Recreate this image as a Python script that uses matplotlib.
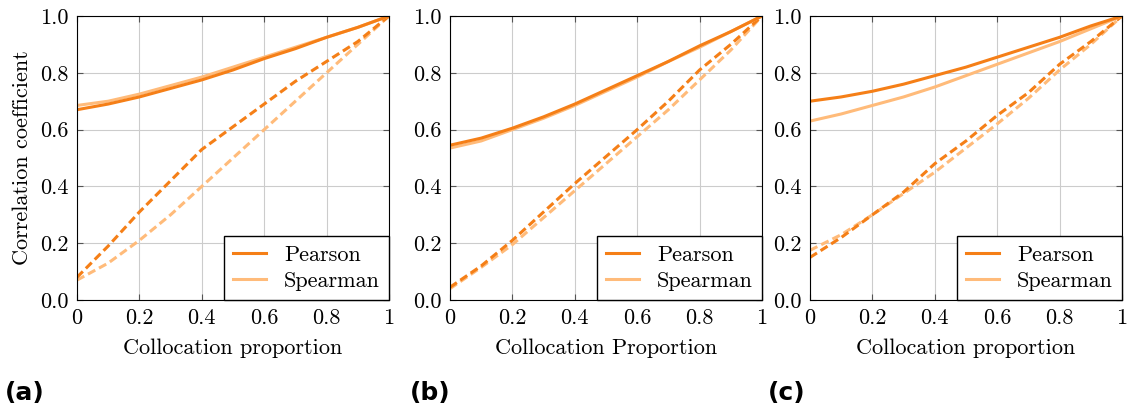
import numpy as np
from matplotlib import pyplot as plt

plt.rcParams['font.family'] = ['cmr10', 'DejaVu Serif']
plt.rcParams['axes.formatter.use_mathtext'] = True

PEARSON_COLOR = "#f57f17"
SPEARMAN_COLOR = "#ffbb7a"

x = [0.0, 0.1, 0.2, 0.3, 0.4, 0.5, 0.6, 0.7, 0.8, 0.9, 1.0]

xtick_vals = [0, 0.2, 0.4, 0.6, 0.8, 1]
xtick_labels = ["0", "0.2", "0.4", "0.6", "0.8", "1"]
ytick_vals = [0.0, 0.2, 0.4, 0.6, 0.8, 1.0]
ytick_labels = ["0.0", "0.2", "0.4", "0.6", "0.8", "1.0"]

panel_tags = ["(a)", "(b)", "(c)"]
xlabels = ["Collocation proportion", "Collocation Proportion", "Collocation proportion"]

# panel (a)
a_pearson = [0.67, 0.69, 0.715, 0.745, 0.775, 0.81, 0.85, 0.885, 0.925, 0.96, 1.0]
a_spearman = [0.685, 0.70, 0.725, 0.755, 0.785, 0.82, 0.855, 0.89, 0.925, 0.96, 1.0]
a_pearson_dash = [0.08, 0.19, 0.31, 0.42, 0.53, 0.61, 0.69, 0.77, 0.84, 0.91, 1.0]
a_spearman_dash = [0.07, 0.13, 0.21, 0.30, 0.40, 0.50, 0.60, 0.70, 0.80, 0.90, 1.0]

# panel (b)
b_pearson = [0.545, 0.57, 0.605, 0.645, 0.69, 0.74, 0.79, 0.84, 0.895, 0.945, 1.0]
b_spearman = [0.535, 0.56, 0.60, 0.64, 0.685, 0.735, 0.785, 0.84, 0.89, 0.945, 1.0]
b_pearson_dash = [0.045, 0.12, 0.21, 0.31, 0.41, 0.505, 0.60, 0.70, 0.81, 0.90, 1.0]
b_spearman_dash = [0.04, 0.115, 0.195, 0.29, 0.385, 0.48, 0.575, 0.67, 0.775, 0.88, 1.0]

# panel (c)
c_pearson = [0.70, 0.715, 0.735, 0.76, 0.79, 0.82, 0.855, 0.89, 0.925, 0.965, 1.0]
c_spearman = [0.63, 0.655, 0.685, 0.715, 0.75, 0.79, 0.83, 0.87, 0.91, 0.955, 1.0]
c_pearson_dash = [0.15, 0.22, 0.30, 0.38, 0.48, 0.56, 0.65, 0.73, 0.83, 0.91, 1.0]
c_spearman_dash = [0.175, 0.23, 0.30, 0.375, 0.45, 0.535, 0.62, 0.71, 0.81, 0.90, 1.0]

panels = [
    (a_pearson, a_spearman, a_pearson_dash, a_spearman_dash),
    (b_pearson, b_spearman, b_pearson_dash, b_spearman_dash),
    (c_pearson, c_spearman, c_pearson_dash, c_spearman_dash),
]

fig = plt.figure(figsize=(11.28, 4.12), dpi=100)
lefts = [77, 450, 810]
tag_x = [5, 410, 768]
FS = 16

for i, (p, s, pd_, sd) in enumerate(panels):
    ax = fig.add_axes([lefts[i] / 1128, 112 / 412, 312 / 1128, 284 / 412])
    dash = (0, (2.7, 1.4))
    ax.plot(x, sd, color=SPEARMAN_COLOR, lw=2.2, ls=dash)
    ax.plot(x, pd_, color=PEARSON_COLOR, lw=2.2, ls=dash)
    ax.plot(x, s, color=SPEARMAN_COLOR, lw=2.2, label="Spearman")
    ax.plot(x, p, color=PEARSON_COLOR, lw=2.2, label="Pearson")
    ax.set_xlim(0, 1)
    ax.set_ylim(0, 1)
    ax.set_xticks(xtick_vals, xtick_labels)
    ax.set_yticks(ytick_vals, ytick_labels)
    ax.tick_params(direction="in", top=True, right=True, labelsize=FS, length=4, pad=6, color="#555555")
    ax.grid(True, color="#cccccc", lw=0.8)
    ax.set_axisbelow(True)
    ax.set_xlabel(xlabels[i], fontsize=FS, labelpad=8)
    if i == 0:
        ax.set_ylabel("Correlation coefficient", fontsize=FS, labelpad=6)
    h, l = ax.get_legend_handles_labels()
    leg = ax.legend(h[::-1], l[::-1], loc="lower right", fontsize=FS, fancybox=False,
                    framealpha=1, edgecolor="black", borderaxespad=0, handlelength=1.5,
                    handletextpad=0.8, borderpad=0.4, labelspacing=0.3)
    leg.get_frame().set_linewidth(1.0)
    fig.text(tag_x[i] / 1128, 1 - 393 / 412, panel_tags[i], fontsize=18, fontweight="bold",
             family="DejaVu Sans", va="center")

fig.savefig("out.png", dpi=100)
